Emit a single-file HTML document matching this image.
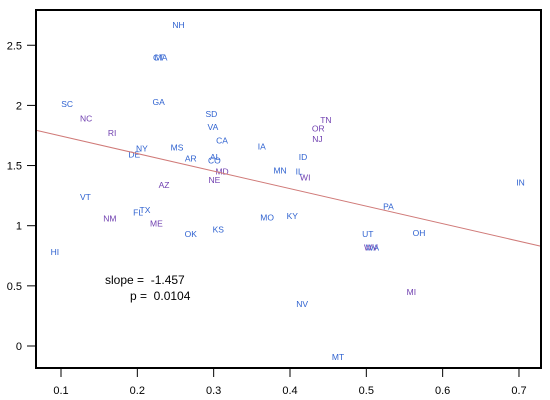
<!DOCTYPE html>
<html><head><meta charset="utf-8"><style>
body{margin:0;background:#fff}
svg{display:block;font-family:"Liberation Sans",Arial,sans-serif}
</style></head><body>
<svg id="chart" width="550" height="400" viewBox="0 0 550 400">
<rect x="0" y="0" width="550" height="400" fill="#fff"/>
<g id="axes"></g>
<g id="marks"></g>
<line id="fit" stroke="#d07a78" stroke-width="1"/>
<rect x="36" y="10" width="505" height="358" fill="none" stroke="#000" stroke-width="2"/>
<text x="105" y="284" font-size="12" xml:space="preserve" style="white-space:pre">slope =  -1.457</text>
<text x="130" y="300" font-size="12" xml:space="preserve" style="white-space:pre">p =  0.0104</text>
</svg>
<script>
const states=["NH","CT","MA","GA","SC","NC","SD","VA","RI","CA","IA","NY","MS","DE","AR","AL","CO","MD","NE","MN","IL","WI","ID","TN","OR","NJ","AZ","VT","TX","FL","NM","ME","OK","KS","MO","KY","PA","UT","OH","WA","WV","IN","MI","NV","MT","HI"];
const xVals=[0.254,0.228,0.231,0.228,0.108,0.133,0.297,0.299,0.167,0.311,0.363,0.206,0.252,0.196,0.270,0.302,0.301,0.311,0.301,0.387,0.412,0.420,0.417,0.447,0.437,0.436,0.235,0.132,0.210,0.201,0.164,0.225,0.270,0.306,0.370,0.403,0.529,0.502,0.569,0.508,0.506,0.702,0.559,0.416,0.463,0.092];
const yVals=[2.67,2.40,2.40,2.03,2.01,1.89,1.93,1.82,1.77,1.71,1.66,1.64,1.65,1.59,1.56,1.57,1.54,1.45,1.38,1.46,1.45,1.40,1.57,1.88,1.81,1.72,1.34,1.24,1.13,1.11,1.06,1.02,0.93,0.97,1.07,1.08,1.16,0.93,0.94,0.82,0.82,1.36,0.45,0.35,-0.09,0.78];
const purple=["NC","RI","NM","ME","OR","NJ","TN","MI","WI","NE","MD","AZ","WV"];
const xTicks=[0.1,0.2,0.3,0.4,0.5,0.6,0.7];
const yTicks=[0,0.5,1,1.5,2,2.5];
const slope=-1.457, intercept=1.891;
const X=v=>61+(v-0.1)*763.3;
const Y=v=>346-v*120.3;
const NS="http://www.w3.org/2000/svg";
const axes=document.getElementById('axes'), marks=document.getElementById('marks');
function mk(t,a,p){const e=document.createElementNS(NS,t);for(const k in a)e.setAttribute(k,a[k]);p.appendChild(e);return e;}
xTicks.forEach(t=>{
  const l=mk('line',{x1:X(t),x2:X(t),y1:368,y2:377,stroke:'#000','stroke-width':1},axes);
  
  
  const tx=mk('text',{x:X(t),y:394,'text-anchor':'middle','font-size':11},axes);tx.textContent=t;
  
  
});
yTicks.forEach(t=>{
  const l=mk('line',{x1:27,x2:36,y1:Y(t),y2:Y(t),stroke:'#000','stroke-width':1},axes);
  
  
  const tx=mk('text',{x:22,y:Y(t)+4,'text-anchor':'end','font-size':11},axes);tx.textContent=t;
  
  
});
states.forEach((s,i)=>{
  const tx=mk('text',{x:X(xVals[i]),y:Y(yVals[i])+3,'text-anchor':'middle','font-size':8.5,fill:purple.includes(s)?'#7040b0':'#2f62d0'},marks);
  tx.textContent=s;
  
  
});
const f=document.getElementById('fit');
const x0=(36-61)/763.3+0.1, x1=(541-61)/763.3+0.1;
f.setAttribute('x1',36);f.setAttribute('x2',541);
f.setAttribute('y1',Y(intercept+slope*x0));f.setAttribute('y2',Y(intercept+slope*x1));
</script>
</body></html>
